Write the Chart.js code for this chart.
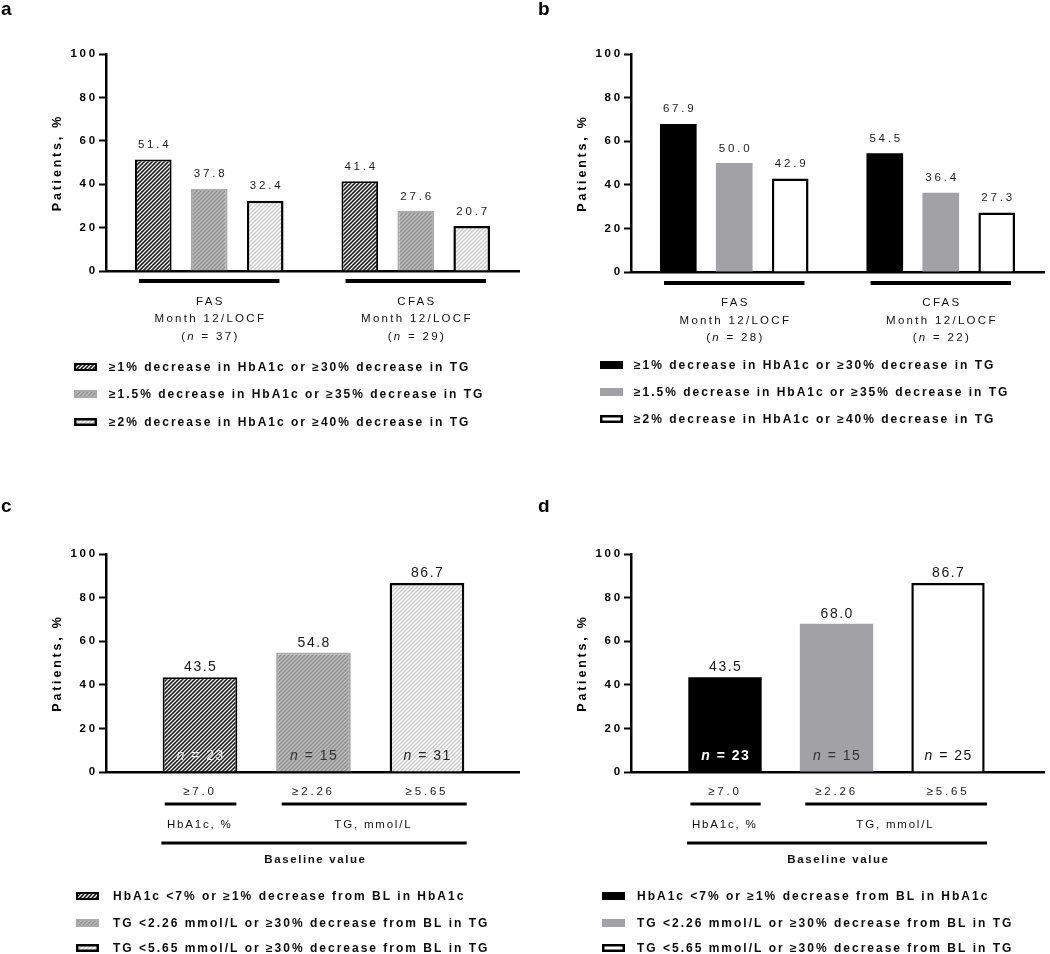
<!DOCTYPE html>
<html>
<head>
<meta charset="utf-8">
<title>Responder rates</title>
<script src="https://cdn.jsdelivr.net/npm/chart.js@4.4.1/dist/chart.umd.min.js"></script>
<style>
  body { margin: 0; background: #fff; }
  #wrap { position: relative; width: 1050px; height: 954px; overflow: hidden; background: #fff; }
  canvas { position: absolute; }
</style>
</head>
<body>
<div id="wrap">
  <canvas id="chartA" width="525" height="500" style="left:0;top:0"></canvas>
  <canvas id="chartB" width="530" height="500" style="left:520px;top:0"></canvas>
  <canvas id="chartC" width="525" height="454" style="left:0;top:500px"></canvas>
  <canvas id="chartD" width="530" height="454" style="left:520px;top:500px"></canvas>
</div>
<script>
const FONT = '"Liberation Sans", Arial, Helvetica, sans-serif';

// ---- data ----
const yTicks = [0, 20, 40, 60, 80, 100];
const yTitle = 'Patients, %';

// panels a and b
const groupNames = ['FAS', 'CFAS'];
const groupPeriod = 'Month 12/LOCF';
const nA = [37, 29];
const nB = [28, 22];
const seriesAB = [
  '≥1% decrease in HbA1c or ≥30% decrease in TG',
  '≥1.5% decrease in HbA1c or ≥35% decrease in TG',
  '≥2% decrease in HbA1c or ≥40% decrease in TG'
];
const a1 = [51.4, 41.4];
const a2 = [37.8, 27.6];
const a3 = [32.4, 20.7];
const b1 = [67.9, 54.5];
const b2 = [50.0, 36.4];
const b3 = [42.9, 27.3];

// panels c and d
const baselineLabels = ['≥7.0', '≥2.26', '≥5.65'];
const baselineGroups = ['HbA1c, %', 'TG, mmol/L'];
const baselineTitle = 'Baseline value';
const seriesCD = [
  'HbA1c <7% or ≥1% decrease from BL in HbA1c',
  'TG <2.26 mmol/L or ≥30% decrease from BL in TG',
  'TG <5.65 mmol/L or ≥30% decrease from BL in TG'
];
const cValues = [43.5, 54.8, 86.7];
const nC = [23, 15, 31];
const dValues = [43.5, 68.0, 86.7];
const nD = [23, 15, 25];

// ---- fills ----
function hatch(bg, fg, lw) {
  // diagonal "/" stripes, 4px period
  const p = 4;
  const c = document.createElement('canvas');
  c.width = p; c.height = p;
  const x = c.getContext('2d');
  x.fillStyle = bg;
  x.fillRect(0, 0, p, p);
  x.strokeStyle = fg;
  x.lineWidth = lw;
  x.beginPath();
  x.moveTo(0, p); x.lineTo(p, 0);
  x.moveTo(-1, 1); x.lineTo(1, -1);
  x.moveTo(p - 1, p + 1); x.lineTo(p + 1, p - 1);
  x.stroke();
  return x.createPattern(c, 'repeat');
}
const hatchStyles = [
  {fill: hatch('#141414', '#f0f0f0', 1.3), border: '#000', width: 2},
  {fill: hatch('#bdbdbd', '#909090', 1.4), border: '#a9a9a9', width: 2},
  {fill: hatch('#ffffff', '#c9c9c9', 1.3), border: '#000', width: 2.5}
];
const solidStyles = [
  {fill: '#000000', border: '#000', width: 0},
  {fill: '#a2a2a6', border: '#a2a2a6', width: 0},
  {fill: '#ffffff', border: '#000', width: 2.5}
];

// ---- text helpers (canvas letterSpacing mimics the wide Prism text) ----
function drawText(ctx, str, x, y, font, color, ls, align) {
  ctx.save();
  ctx.font = font;
  ctx.fillStyle = color;
  ctx.letterSpacing = ls + 'px';
  ctx.textBaseline = 'alphabetic';
  ctx.textAlign = align;
  ctx.fillText(str, align === 'center' ? x + ls / 2 : x, y);
  ctx.restore();
}

function drawRuns(ctx, runs, cx, y, color, ls) {
  // centred text made of pieces with different fonts (italic n)
  ctx.save();
  ctx.letterSpacing = ls + 'px';
  ctx.textBaseline = 'alphabetic';
  ctx.textAlign = 'left';
  ctx.fillStyle = color;
  let total = 0;
  const w = runs.map(r => { ctx.font = r.font; const m = ctx.measureText(r.text).width; total += m; return m; });
  let x = cx - (total - ls) / 2;
  runs.forEach((r, i) => { ctx.font = r.font; ctx.fillText(r.text, x, y); x += w[i]; });
  ctx.restore();
}

function panelPlugin(cfg) {
  return {
    id: 'panel' + cfg.letter,
    beforeUpdate(chart) { chart.ctx.letterSpacing = '2.8px'; },
    beforeDraw(chart) { chart.ctx.letterSpacing = '2.8px'; },
    afterDatasetsDraw(chart) {
      const ctx = chart.ctx;
      const zero = chart.scales.y.getPixelForValue(0);
      chart.data.datasets.forEach((ds, i) => {
        chart.getDatasetMeta(i).data.forEach((bar, j) => {
          const v = ds.data[j];
          const val = typeof v === 'number' ? v : v.y;
          drawText(ctx, val.toFixed(1), bar.x, bar.y - cfg.valueOffset, cfg.valueFont, '#1a1a1a', cfg.valueSpacing, 'center');
          if (cfg.counts) {
            const s = cfg.countStyles[j];
            drawRuns(ctx, [
              {text: 'n', font: 'italic ' + s.weight + ' 14px ' + FONT},
              {text: ' = ' + cfg.counts[j], font: s.weight + ' 14px ' + FONT}
            ], bar.x, zero - 12, s.color, 1.5);
          }
        });
      });
    },
    afterDraw(chart) {
      const ctx = chart.ctx;
      const xs = chart.scales.x;
      drawText(ctx, cfg.letter, cfg.letterX, cfg.letterY, 'bold 19px ' + FONT, '#000', 0, 'left');

      ctx.save();
      ctx.fillStyle = '#000';
      cfg.lines.forEach(l => {
        const x0 = xs.getPixelForValue(l.from), x1 = xs.getPixelForValue(l.to);
        ctx.fillRect(x0, l.y - l.w / 2, x1 - x0, l.w);
      });
      ctx.restore();

      cfg.texts.forEach(t => {
        const x = xs.getPixelForValue(t.at);
        if (t.runs) drawRuns(ctx, t.runs, x, t.y, t.color, t.ls);
        else drawText(ctx, t.text, x, t.y, t.font, t.color, t.ls, 'center');
      });

      const lg = cfg.legend;
      lg.items.forEach((label, k) => {
        const st = lg.styles[k];
        const cy = lg.ys[k];
        ctx.save();
        ctx.fillStyle = st.fill;
        ctx.fillRect(lg.sx, cy - lg.sh / 2, lg.sw, lg.sh);
        if (st.width) {
          ctx.strokeStyle = st.border;
          ctx.lineWidth = st.width;
          ctx.strokeRect(lg.sx + st.width / 2, cy - lg.sh / 2 + st.width / 2, lg.sw - st.width, lg.sh - st.width);
        }
        ctx.restore();
        drawText(ctx, label, lg.tx, cy + 4, 'bold 12px ' + FONT, '#0a0a0a', 2, 'left');
      });
    }
  };
}

function yScale(width) {
  return {
    min: 0, max: 100,
    afterBuildTicks: s => { s.ticks = yTicks.map(v => ({value: v})); },
    afterFit: s => { s.width = width; },
    grid: {display: true, drawOnChartArea: false, drawTicks: true, tickLength: 7, tickWidth: 2, tickColor: '#000'},
    border: {display: true, color: '#000', width: 2.5},
    ticks: {color: '#000', padding: 1, font: {family: FONT, size: 11.5, weight: 'bold'}},
    title: {display: true, text: yTitle, color: '#000', padding: 0, font: {family: FONT, size: 12.5, weight: 'bold'}}
  };
}

function groupTexts(counts, ys) {
  const out = [];
  const f = '11.5px ' + FONT;
  groupNames.forEach((g, i) => {
    out.push({at: i, y: ys[0], text: g, font: f, color: '#111', ls: 2.3});
    out.push({at: i, y: ys[1], text: groupPeriod, font: f, color: '#111', ls: 2.3});
    out.push({at: i, y: ys[2], color: '#111', ls: 2.3, runs: [
      {text: '(', font: f},
      {text: 'n', font: 'italic ' + f},
      {text: ' = ' + counts[i] + ')', font: f}
    ]});
  });
  return out;
}

function groupedChart(id, series, styles, counts, pad, yWidth, plug) {
  return new Chart(document.getElementById(id), {
    type: 'bar',
    data: {
      labels: groupNames,
      datasets: series.map((d, i) => ({
        label: seriesAB[i], data: d,
        backgroundColor: styles[i].fill, borderColor: styles[i].border, borderWidth: styles[i].width,
        categoryPercentage: 0.813, barPercentage: 0.655
      }))
    },
    options: {
      responsive: false, animation: false, events: [],
      layout: {padding: pad},
      plugins: {legend: {display: false}, tooltip: {enabled: false}},
      scales: {
        x: {
          grid: {display: false, drawTicks: false},
          border: {display: true, color: '#000', width: 2.5},
          ticks: {display: false},
          afterFit: s => { s.height = 40; }
        },
        y: yScale(yWidth)
      }
    },
    plugins: [panelPlugin(plug)]
  });
}

function baselineChart(id, values, styles, pad, yWidth, xMin, xMax, plug) {
  return new Chart(document.getElementById(id), {
    type: 'bar',
    data: {
      datasets: [{
        label: 'Responders', data: values.map((v, i) => ({x: i + 1, y: v})),
        backgroundColor: styles.map(s => s.fill),
        borderColor: styles.map(s => s.border),
        borderWidth: styles.map(s => s.width),
        categoryPercentage: 1, barPercentage: 0.658
      }]
    },
    options: {
      responsive: false, animation: false, events: [],
      layout: {padding: pad},
      plugins: {legend: {display: false}, tooltip: {enabled: false}},
      scales: {
        x: {
          type: 'linear', min: xMin, max: xMax, offset: false,
          afterBuildTicks: s => { s.ticks = baselineLabels.map((_, i) => ({value: i + 1})); },
          afterFit: s => { s.height = 40; },
          grid: {display: false, drawTicks: false, offset: false},
          border: {display: true, color: '#000', width: 2.5},
          ticks: {color: '#222', padding: 13, font: {family: FONT, size: 11.5}, callback: (v, i) => baselineLabels[i]}
        },
        y: yScale(yWidth)
      }
    },
    plugins: [panelPlugin(plug)]
  });
}

function baselineDecor() {
  return {
    lines: [
      {from: 0.69, to: 1.32, y: 304, w: 3},
      {from: 1.72, to: 3.35, y: 304, w: 3},
      {from: 0.66, to: 3.35, y: 343, w: 3}
    ],
    texts: [
      {at: 0.99, y: 328, text: baselineGroups[0], font: '11.5px ' + FONT, color: '#111', ls: 1.8},
      {at: 2.52, y: 328, text: baselineGroups[1], font: '11.5px ' + FONT, color: '#111', ls: 1.8},
      {at: 2.01, y: 363, text: baselineTitle, font: 'bold 11.5px ' + FONT, color: '#111', ls: 1.6}
    ]
  };
}

// ---- panel a ----
groupedChart('chartA', [a1, a2, a3], hatchStyles, nA,
  {left: 50, top: 54, right: 6, bottom: 189}, 56, {
    letter: 'a', letterX: 1, letterY: 15,
    valueFont: '11.5px ' + FONT, valueSpacing: 2.8, valueOffset: 11.5,
    lines: groupNames.map((_, i) => ({from: i - 0.34, to: i + 0.34, y: 281, w: 4})),
    texts: groupTexts(nA, [305, 322, 340]),
    legend: {items: seriesAB, styles: hatchStyles, sx: 74, sw: 23, sh: 8, tx: 109, ys: [367, 394, 422]}
  });

// ---- panel b ----
groupedChart('chartB', [b1, b2, b3], solidStyles, nB,
  {left: 55, top: 54, right: 6, bottom: 188}, 56, {
    letter: 'b', letterX: 18, letterY: 15,
    valueFont: '11.5px ' + FONT, valueSpacing: 2.8, valueOffset: 11.5,
    lines: groupNames.map((_, i) => ({from: i - 0.34, to: i + 0.34, y: 283, w: 4})),
    texts: groupTexts(nB, [306, 324, 341]),
    legend: {items: seriesAB, styles: solidStyles, sx: 80, sw: 23, sh: 8, tx: 114, ys: [365, 392, 419]}
  });

// ---- panel c ----
baselineChart('chartC', cValues, hatchStyles,
  {left: 50, top: 54, right: 6, bottom: 142}, 56, 0.172, 3.811,
  Object.assign(baselineDecor(), {
    letter: 'c', letterX: 1, letterY: 12,
    valueFont: '14px ' + FONT, valueSpacing: 1.5, valueOffset: 6,
    counts: nC,
    countStyles: [{color: '#eeeeee', weight: 'normal'}, {color: '#333', weight: 'normal'}, {color: '#222', weight: 'normal'}],
    legend: {items: seriesCD, styles: hatchStyles, sx: 76, sw: 23, sh: 8, tx: 113, ys: [396, 423, 448]}
  }));

// ---- panel d ----
baselineChart('chartD', dValues, solidStyles,
  {left: 55, top: 54, right: 6, bottom: 142}, 56, 0.157, 3.861,
  Object.assign(baselineDecor(), {
    letter: 'd', letterX: 18, letterY: 12,
    valueFont: '14px ' + FONT, valueSpacing: 1.5, valueOffset: 6,
    counts: nD,
    countStyles: [{color: '#ffffff', weight: 'bold'}, {color: '#333', weight: 'normal'}, {color: '#111', weight: 'normal'}],
    legend: {items: seriesCD, styles: solidStyles, sx: 82, sw: 23, sh: 8, tx: 117, ys: [396, 423, 448]}
  }));
</script>
</body>
</html>
